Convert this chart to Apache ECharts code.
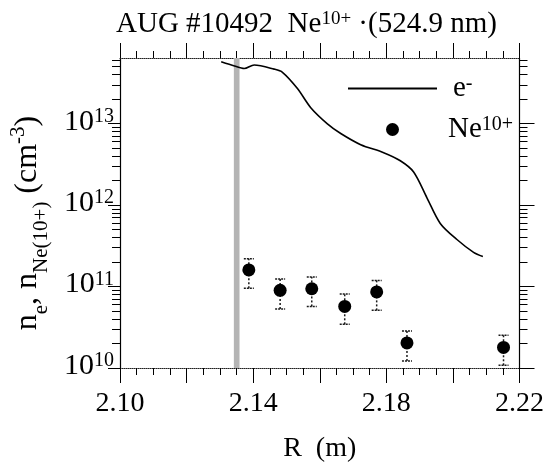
<!DOCTYPE html>
<html><head><meta charset="utf-8">
<script src="https://cdn.jsdelivr.net/npm/echarts@6/dist/echarts.min.js"></script>
<style>html,body{margin:0;padding:0;background:#fff}#c{width:547px;height:468px}</style>
</head><body><div id="c"></div>
<script>
// ---- data ----
const neR = [2.1304, 2.1344, 2.1373, 2.1403, 2.1463, 2.1488, 2.1533, 2.1573, 2.1623, 2.1663, 2.1723, 2.1792, 2.1842, 2.1882, 2.1922, 2.1962, 2.2012, 2.2062, 2.2090];
const neVal = [5.75e13, 5.1e13, 4.75e13, 5.25e13, 4.67e13, 4.27e13, 2.7e13, 1.57e13, 9.95e12, 7.57e12, 5.52e12, 4.4e12, 3.5e12, 2.55e12, 1.23e12, 5.96e11, 3.78e11, 2.63e11, 2.34e11];
const ionR = [2.1387, 2.1481, 2.1576, 2.1675, 2.1771, 2.1862, 2.2152];
const ionVal = [1.6e11, 9.0e10, 9.4e10, 5.7e10, 8.6e10, 2.03e10, 1.79e10];
const ionLow = [9.5e10, 5.3e10, 5.7e10, 3.44e10, 5.1e10, 1.22e10, 1.08e10];
const ionHigh = [2.19e11, 1.24e11, 1.31e11, 8.1e10, 1.19e11, 2.84e10, 2.52e10];
const bandR = [2.1342, 2.1359];
const xLabelTicks = [2.10, 2.14, 2.18, 2.22];
const yDecades = [10, 11, 12, 13];
const yMaxValue = 6.4e13;
const yMinValue = 1e10;

const FONT = "'Liberation Serif','Times New Roman',serif";
const lg = Math.log10;
const yMin = lg(yMinValue), yMax = lg(yMaxValue);
const yMinor = [];
yDecades.forEach(d => { for (let m = 2; m <= 9; m++) { const v = d + lg(m); if (v <= yMax) yMinor.push(v); } });

const xBase = {
  type: 'value', min: 2.10, max: 2.22, interval: 0.02,
  axisLine: { show: true, lineStyle: { color: '#222', width: 1, type: 'dotted' } },
  axisTick: { show: true, length: 15, lineStyle: { color: '#000', width: 1 } },
  minorTick: { show: true, splitNumber: 4, length: 7, lineStyle: { color: '#000', width: 1 } },
  splitLine: { show: false }, minorSplitLine: { show: false }
};
const yBase = {
  type: 'value', min: yMin, max: yMax,
  splitLine: { show: false }
};

const sup = (b, s) => '{b|' + b + '}{s|' + s + '}';
const richSup = (big, small) => ({
  b: { fontFamily: FONT, fontSize: big, fontWeight: 'normal', color: '#000', lineHeight: big, verticalAlign: 'bottom' },
  s: { fontFamily: FONT, fontSize: small, fontWeight: 'normal', color: '#000', lineHeight: small, verticalAlign: 'top' }
});

const option = {
  animation: false,
  backgroundColor: '#fff',
  textStyle: { fontFamily: FONT, color: '#000' },
  title: {
    text: '{b|AUG #10492  Ne}{s|10+}{b| ·(524.9 nm)}',
    left: 111, top: 5,
    textStyle: { fontFamily: FONT, fontWeight: 'normal', rich: richSup(29, 19) }
  },
  legend: [
    {
      data: [{ name: 'e-', icon: 'rect' }], left: 348, top: 74, padding: 0, itemWidth: 89, itemHeight: 2,
      itemStyle: { color: '#000' },
      formatter: () => sup('e', '-'),
      textStyle: { padding: [0, 0, 0, 11], rich: richSup(29, 20) }
    },
    {
      data: [{ name: 'Ne10+', icon: 'circle' }], left: 386, top: 115, padding: 0, itemWidth: 13, itemHeight: 13,
      itemStyle: { color: '#000', opacity: 1 },
      formatter: () => sup('Ne', '10+'),
      textStyle: { padding: [0, 0, 0, 44], rich: richSup(29, 20) }
    }
  ],
  grid: { left: 119, right: 27, top: 58, bottom: 88, containLabel: false },
  xAxis: [
    Object.assign({}, xBase, {
      position: 'bottom',
      name: 'R  (m)', nameLocation: 'middle', nameGap: 67,
      nameTextStyle: { fontFamily: FONT, fontSize: 28, color: '#000' },
      axisLabel: {
        show: true, customValues: xLabelTicks, margin: 22,
        fontFamily: FONT, fontSize: 28, color: '#000',
        formatter: v => v.toFixed(2)
      }
    }),
    Object.assign({}, xBase, { position: 'top', axisLabel: { show: false } })
  ],
  yAxis: [
    Object.assign({}, yBase, {
      position: 'left',
      axisLine: { show: true, lineStyle: { color: '#000', width: 1.2 } },
      axisTick: { show: true, customValues: yDecades, length: 12, lineStyle: { color: '#000' } },
      axisLabel: {
        show: true, customValues: yDecades, margin: 6, padding: [0, 0, 4, 0],
        formatter: v => sup('10', Math.round(v)),
        rich: richSup(30, 20)
      },
      name: '{b|n}{d|e}{b|, n}{d|Ne(10+)}{b| (cm}{u|-3}{b|)}',
      nameLocation: 'middle', nameRotate: 90, nameGap: 76,
      nameTextStyle: {
        padding: [0, 20, 0, 0],
        rich: {
          b: { fontFamily: FONT, fontSize: 32, color: '#000', lineHeight: 32, verticalAlign: 'top' },
          d: { fontFamily: FONT, fontSize: 21, color: '#000', lineHeight: 21, verticalAlign: 'bottom', padding: [0, 0, -8, 0] },
          u: { fontFamily: FONT, fontSize: 21, color: '#000', lineHeight: 21, verticalAlign: 'top', padding: [-4, 0, 0, 0] }
        }
      }
    }),
    Object.assign({}, yBase, {
      position: 'left', axisLine: { show: false }, axisLabel: { show: false },
      axisTick: { show: true, customValues: yMinor, length: 8, lineStyle: { color: '#000' } }
    }),
    Object.assign({}, yBase, {
      position: 'right',
      axisLine: { show: true, lineStyle: { color: '#000', width: 1.2 } },
      axisLabel: { show: false },
      axisTick: { show: true, customValues: yDecades, length: 15, lineStyle: { color: '#000' } }
    }),
    Object.assign({}, yBase, {
      position: 'right', axisLine: { show: false }, axisLabel: { show: false },
      axisTick: { show: true, customValues: yMinor, length: 8, lineStyle: { color: '#000' } }
    })
  ],
  series: [
    {
      name: 'e-', type: 'line', xAxisIndex: 0, yAxisIndex: 0,
      data: neR.map((r, i) => [r, lg(neVal[i])]),
      showSymbol: false, symbol: 'none', smooth: 0.3,
      lineStyle: { color: '#000', width: 1.6 }, itemStyle: { color: '#000' },
      z: 3,
      markArea: {
        silent: true,
        itemStyle: { color: '#b4b4b4' },
        data: [[{ xAxis: bandR[0] }, { xAxis: bandR[1] }]]
      }
    },
    {
      name: 'err', type: 'custom', xAxisIndex: 0, yAxisIndex: 0,
      data: ionR.map((r, i) => [r, lg(ionLow[i]), lg(ionHigh[i])]),
      encode: { x: 0, y: [1, 2] },
      z: 4,
      renderItem: (params, api) => {
        const x = api.value(0);
        const pLo = api.coord([x, api.value(1)]);
        const pHi = api.coord([x, api.value(2)]);
        const w = 5;
        const st = { stroke: '#1a1a1a', lineWidth: 1.5 };
        return {
          type: 'group', children: [
            { type: 'line', shape: { x1: pLo[0], y1: pLo[1], x2: pHi[0], y2: pHi[1] }, style: Object.assign({ lineDash: [2, 2] }, st) },
            { type: 'line', shape: { x1: pHi[0] - w, y1: pHi[1], x2: pHi[0] + w, y2: pHi[1] }, style: Object.assign({ lineDash: [2, 1] }, st) },
            { type: 'line', shape: { x1: pLo[0] - w, y1: pLo[1], x2: pLo[0] + w, y2: pLo[1] }, style: Object.assign({ lineDash: [2, 1] }, st) }
          ]
        };
      }
    },
    {
      name: 'Ne10+', type: 'scatter', xAxisIndex: 0, yAxisIndex: 0,
      data: ionR.map((r, i) => [r, lg(ionVal[i])]),
      symbol: 'circle', symbolSize: 13,
      itemStyle: { color: '#000', opacity: 1 }, z: 5
    }
  ]
};
const chart = echarts.init(document.getElementById('c'), null, { renderer: 'canvas' });
chart.setOption(option);
</script></body></html>
